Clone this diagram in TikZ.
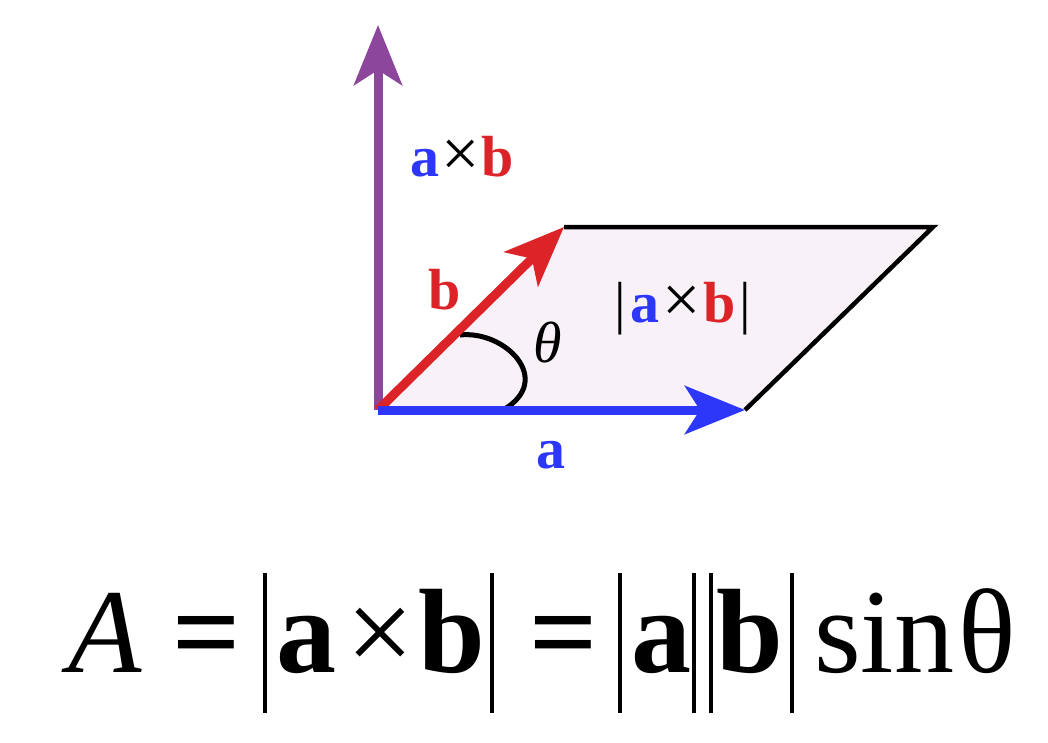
\documentclass[tikz,border=0pt]{standalone}
\usepackage{fontspec}
\setmainfont{Liberation Serif}
\usetikzlibrary{arrows.meta}
\definecolor{vblue}{RGB}{45,55,250}
\definecolor{vred}{RGB}{220,35,40}
\definecolor{vpurple}{RGB}{140,70,155}
\definecolor{pfill}{RGB}{248,242,248}
\newcommand{\bigtimes}{{\fontsize{68}{60}\selectfont ×}}
\tikzset{
  vec/.style={line width=9pt,-{Stealth[length=60pt,width=48pt,inset=15pt]}},
  lbl/.style={inner sep=0pt,font=\fontsize{58}{60}\selectfont},
  frm/.style={inner sep=0pt,anchor=base west,font=\fontsize{120}{120}\selectfont},
  bar/.style={line width=4pt}
}
\begin{document}
\begin{tikzpicture}[x=1pt,y=-1pt]
\useasboundingbox (0,0) rectangle (1048,742);
\coordinate (O) at (378,410);
\coordinate (Bt) at (564,227);
\coordinate (At) at (745,410);
\coordinate (Ct) at (933,227);
\coordinate (Ut) at (378,25);
\fill[pfill] (O) -- (Bt) -- (Ct) -- (At) -- cycle;
\draw[line width=4.5pt,line join=miter] (Bt) -- (Ct) -- (At);
\draw[line width=5pt] (460,335) .. controls (505,330) and (555,380) .. (503,410);
\draw[vec,vpurple] (O) -- (Ut);
\draw[vec,vred] (O) -- (Bt);
\draw[vec,vblue] (O) -- (At);
\node[lbl] (lcross) at (462,157) {\textcolor{vblue}{\bfseries a}\hspace{2pt}\bigtimes\hspace{2pt}\textcolor{vred}{\bfseries b}};
\node[lbl] (lb) at (445,290) {\textcolor{vred}{\bfseries b}};
\node[lbl] (lth) at (548,342) {\itshape θ};
\node[lbl] (larea) at (683,309) {|\hspace{4pt}\textcolor{vblue}{\bfseries a}\hspace{3pt}\bigtimes\hspace{3pt}\textcolor{vred}{\bfseries b}\hspace{4pt}|};
\node[lbl] (la) at (551,455) {\textcolor{vblue}{\bfseries a}};
% formula
\node[frm] (fA) at (68,672) {\itshape A};
\node[frm] (fe1) at (172,672) {\bfseries =};
\node[frm] (fa1) at (276,672) {\bfseries a};
\node[frm] (fx) at (346,672) {×};
\node[frm] (fb1) at (418,672) {\bfseries b};
\node[frm] (fe2) at (529,672) {\bfseries =};
\node[frm] (fa2) at (631,672) {\bfseries a};
\node[frm] (fb2) at (716,672) {\bfseries b};
\node[frm] (fsin) at (814,672) {sin};
\node[frm] (fth) at (958,672) {θ};
\foreach \x in {265,492,620,694,711,792}{
  \draw[bar] (\x,573) -- (\x,713);
}
\end{tikzpicture}
\end{document}
